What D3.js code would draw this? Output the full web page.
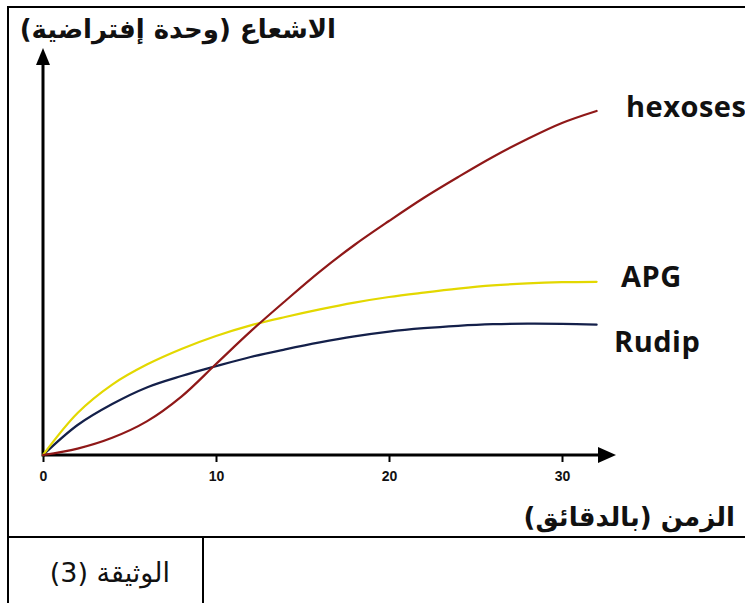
<!DOCTYPE html>
<html>
<head>
<meta charset="utf-8">
<script src="https://cdn.jsdelivr.net/npm/d3@7"></script>
<style>
  html, body { margin: 0; padding: 0; background: #fff; overflow: hidden; }
  svg { display: block; }
</style>
</head>
<body>
<svg id="chart" width="745" height="603"></svg>
<script>
// ---- data ----
const times   = [0, 2, 4, 6, 8, 10, 12, 14, 16, 18, 20, 22, 24, 26, 28, 30, 32];
const hexoses = [0, 1.6, 4.3, 8.4, 14.6, 22.75, 30.9, 38.5, 45.85, 52.5, 58.5, 64.25, 69.5, 74.5, 79, 83, 86];
const apg     = [0, 10.5, 17.6, 22.6, 26.5, 29.75, 32.4, 34.5, 36.4, 38.1, 39.5, 40.6, 41.6, 42.4, 42.9, 43.2, 43.3];
const rudip   = [0, 7.5, 12.75, 16.9, 19.75, 22.2, 24.5, 26.4, 28.15, 29.65, 30.85, 31.7, 32.3, 32.7, 32.85, 32.8, 32.6];
const seriesNames = ["hexoses", "APG", "Rudip"];
const tickValues = [0, 10, 20, 30];
const yTitle = "الاشعاع (وحدة إفتراضية)";
const xTitle = "الزمن (بالدقائق)";
const docLabel = "الوثيقة (3)";

const svg = d3.select("#chart");

const x = d3.scaleLinear().domain([0, 30]).range([43, 562]);
const y = d3.scaleLinear().domain([0, 100]).range([455, 55]);

// ---- frame ----
const frame = svg.append("g").attr("fill", "none").attr("stroke", "#000").attr("stroke-width", 2);
frame.append("path").attr("d", "M8,603 V7 H745");
frame.append("path").attr("d", "M8,537 H745");
frame.append("path").attr("d", "M203,537 V603");

// ---- axes ----
const axisG = svg.append("g");
axisG.append("line")
  .attr("x1", x(0)).attr("x2", 600)
  .attr("y1", y(0)).attr("y2", y(0))
  .attr("stroke", "#000").attr("stroke-width", 3);
axisG.append("path")
  .attr("d", `M598,${y(0) - 8} L616,${y(0)} L598,${y(0) + 8} Z`)
  .attr("fill", "#000");
axisG.append("line")
  .attr("x1", x(0)).attr("x2", x(0))
  .attr("y1", y(0) + 1.5).attr("y2", 62)
  .attr("stroke", "#000").attr("stroke-width", 3);
axisG.append("path")
  .attr("d", `M${x(0) - 7},65 L${x(0)},48 L${x(0) + 7},65 Z`)
  .attr("fill", "#000");

const xAxis = d3.axisBottom(x).tickValues(tickValues).tickSize(7).tickPadding(9).tickFormat(d3.format("d"));
const gx = svg.append("g").attr("transform", `translate(0,${y(0)})`).call(xAxis);
gx.select(".domain").remove();
gx.selectAll(".tick line").attr("stroke", "#000").attr("stroke-width", 2);
gx.selectAll(".tick text")
  .attr("fill", "#111")
  .style("font-family", "'Liberation Sans', Arial, sans-serif")
  .style("font-weight", "bold")
  .style("font-size", "14px");

// ---- curves ----
const line = d3.line()
  .x((d, i) => x(times[i]))
  .y(d => y(d))
  .curve(d3.curveCatmullRom.alpha(0.5));

const series = [
  { name: seriesNames[0], values: hexoses, color: "#8f1818" },
  { name: seriesNames[1], values: apg,     color: "#e3d800" },
  { name: seriesNames[2], values: rudip,   color: "#14204a" }
];
[series[2], series[1], series[0]].forEach(s => {
  svg.append("path")
    .datum(s.values)
    .attr("d", line)
    .attr("fill", "none")
    .attr("stroke", s.color)
    .attr("stroke-width", 2.2)
    .attr("stroke-linecap", "round");
});

// ---- series labels ----
const labelPos = { hexoses: [626, 117], APG: [621, 287], Rudip: [614, 352] };
series.forEach(s => {
  svg.append("text")
    .attr("x", labelPos[s.name][0])
    .attr("y", labelPos[s.name][1])
    .attr("fill", "#111")
    .style("font-family", "'Open Sans', 'Noto Sans', sans-serif")
    .style("font-weight", "bold")
    .style("font-size", "29px")
    .style("letter-spacing", "0.5px")
    .text(s.name);
});

// ---- Arabic titles ----
svg.append("text")
  .attr("x", 336).attr("y", 38)
  .attr("direction", "rtl")
  .attr("text-anchor", "start")
  .attr("fill", "#111")
  .style("font-family", "'DejaVu Sans', sans-serif")
  .style("font-weight", "bold")
  .style("font-size", "26px")
  .text(yTitle);

svg.append("text")
  .attr("x", 735).attr("y", 526)
  .attr("direction", "rtl")
  .attr("text-anchor", "start")
  .attr("fill", "#111")
  .style("font-family", "'DejaVu Sans', sans-serif")
  .style("font-weight", "bold")
  .style("font-size", "26px")
  .text(xTitle);

svg.append("text")
  .attr("x", 170).attr("y", 582)
  .attr("direction", "rtl")
  .attr("text-anchor", "start")
  .attr("fill", "#111")
  .style("font-family", "'DejaVu Sans', sans-serif")
  .style("font-size", "27px")
  .text(docLabel);
</script>
</body>
</html>
